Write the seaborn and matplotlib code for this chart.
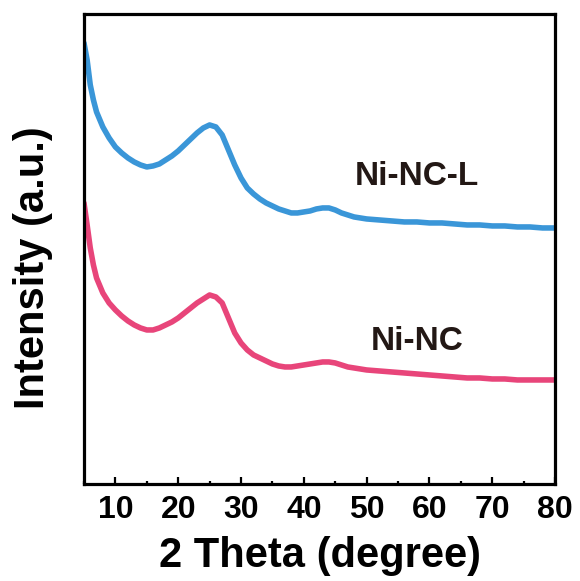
import matplotlib
matplotlib.use("Agg")
import matplotlib.pyplot as plt
import seaborn as sns
import pandas as pd
from matplotlib.ticker import MultipleLocator

# 2 theta (degree)
two_theta = [5, 5.5, 6, 6.5, 7, 8, 9, 10, 11, 12, 13, 14, 15, 16, 17, 18, 19, 20,
             21, 22, 23, 24, 25, 26, 27, 28, 29, 30, 31, 32, 33, 34, 35, 36, 37,
             38, 39, 40, 41, 42, 43, 44, 45, 46, 47, 48, 49, 50, 52, 54, 56, 58,
             60, 62, 64, 66, 68, 70, 72, 74, 76, 78, 80]

# intensity (a.u.), offset-stacked
ni_nc_l = [441, 424, 399, 384, 372, 357, 346, 337, 331, 326, 322, 319, 317, 318,
           320, 324, 328, 333, 339, 345, 351, 356, 359, 357, 349, 334, 319, 306,
           296, 290, 285, 281, 278, 275, 273, 271, 271, 272, 273, 275, 276, 276,
           274, 271, 269, 267, 266, 265, 264, 263, 262, 262, 261, 261, 260, 259,
           259, 258, 258, 257, 257, 256, 256]
ni_nc = [281, 259, 236, 219, 206, 191, 181, 174, 168, 163, 159, 156, 154, 154,
         156, 159, 162, 166, 171, 176, 181, 185, 189, 187, 181, 166, 151, 141,
         134, 129, 126, 123, 120, 118, 117, 117, 118, 119, 120, 121, 122, 122,
         121, 119, 117, 116, 115, 114, 113, 112, 111, 110, 109, 108, 107, 106,
         106, 105, 105, 104, 104, 104, 104]

labels = ["Ni-NC-L", "Ni-NC"]
colors = ["#3a96d8", "#e8457a"]

df = pd.concat([
    pd.DataFrame({"x": two_theta, "y": ni_nc_l, "sample": labels[0]}),
    pd.DataFrame({"x": two_theta, "y": ni_nc, "sample": labels[1]}),
])

sns.set_theme(style="white")
plt.rcParams["font.family"] = ["Liberation Sans", "DejaVu Sans"]
plt.rcParams["font.weight"] = "bold"
plt.rcParams["text.color"] = "black"
plt.rcParams["axes.labelcolor"] = "black"
plt.rcParams["xtick.color"] = "black"
plt.rcParams["ytick.color"] = "black"

fig = plt.figure(figsize=(5.8, 5.81), dpi=100)
ax = fig.add_axes([0.1448, 0.167, 0.8122, 0.809])

sns.lineplot(data=df, x="x", y="y", hue="sample", palette=colors,
             linewidth=4.0, ax=ax, legend=False, sort=False)

ax.set_xlim(5, 80)
ax.set_ylim(0, 470)
ax.set_yticks([])
ax.xaxis.set_major_locator(MultipleLocator(10))
ax.xaxis.set_minor_locator(MultipleLocator(5))
ax.tick_params(axis="x", which="major", direction="in", length=5, width=1.6,
               labelsize=23, pad=8, bottom=True, labelcolor="black")
ax.tick_params(axis="x", which="minor", direction="in", length=2.5, width=1.6,
               bottom=True)
for lab in ax.get_xticklabels():
    lab.set_fontweight("bold")
for s in ax.spines.values():
    s.set_linewidth(2.3)
    s.set_color("black")

ax.set_xlabel("2 Theta (degree)", fontsize=30, fontweight="bold", labelpad=8,
              color="black")
ax.set_ylabel("Intensity (a.u.)", fontsize=30, fontweight="bold", color="black")
ax.yaxis.set_label_coords(-0.065, 0.46)

ax.text(58, 307, labels[0], fontsize=24, fontweight="bold", color="#231815",
        ha="center", va="center")
ax.text(58, 142, labels[1], fontsize=24, fontweight="bold", color="#231815",
        ha="center", va="center")

fig.savefig("out.png", dpi=100)
